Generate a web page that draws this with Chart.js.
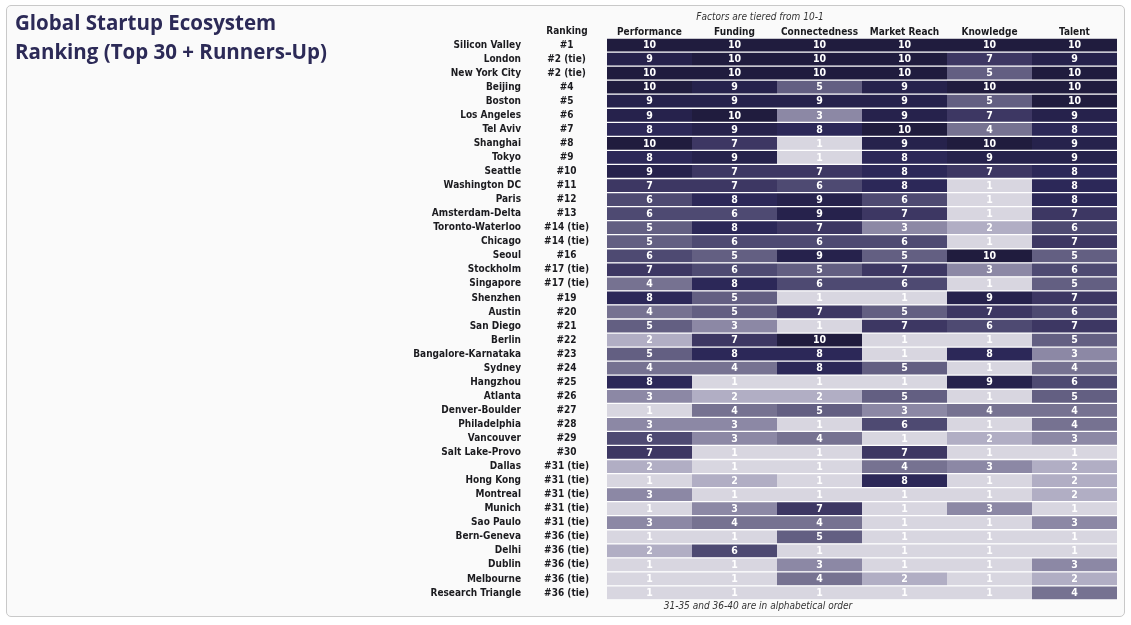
<!DOCTYPE html>
<html>
<head>
<meta charset="utf-8">
<script src="https://cdn.jsdelivr.net/npm/chart.js@4.4.0/dist/chart.umd.min.js"></script>
<style>
  html, body { margin: 0; padding: 0; background: #fff; }
  #card { position: absolute; left: 6px; top: 5px; width: 1117px; height: 610px;
          border: 1px solid #c9c9c9; border-radius: 5px; background: #fafafa; overflow: hidden; }
  #card canvas { display: block; }
</style>
</head>
<body>
<div id="card"><canvas id="rank"></canvas></div>
<script>
// data
const cities = ['Silicon Valley', 'London', 'New York City', 'Beijing', 'Boston', 'Los Angeles', 'Tel Aviv',
  'Shanghai', 'Tokyo', 'Seattle', 'Washington DC', 'Paris', 'Amsterdam-Delta', 'Toronto-Waterloo', 'Chicago',
  'Seoul', 'Stockholm', 'Singapore', 'Shenzhen', 'Austin', 'San Diego', 'Berlin', 'Bangalore-Karnataka',
  'Sydney', 'Hangzhou', 'Atlanta', 'Denver-Boulder', 'Philadelphia', 'Vancouver', 'Salt Lake-Provo',
  'Dallas', 'Hong Kong', 'Montreal', 'Munich', 'Sao Paulo', 'Bern-Geneva', 'Delhi', 'Dublin', 'Melbourne',
  'Research Triangle'];
const ranks = ['#1', '#2 (tie)', '#2 (tie)', '#4', '#5', '#6', '#7', '#8', '#9', '#10', '#11', '#12', '#13',
  '#14 (tie)', '#14 (tie)', '#16', '#17 (tie)', '#17 (tie)', '#19', '#20', '#21', '#22', '#23', '#24', '#25',
  '#26', '#27', '#28', '#29', '#30', '#31 (tie)', '#31 (tie)', '#31 (tie)', '#31 (tie)', '#31 (tie)',
  '#36 (tie)', '#36 (tie)', '#36 (tie)', '#36 (tie)', '#36 (tie)'];
const factors = ['Performance', 'Funding', 'Connectedness', 'Market Reach', 'Knowledge', 'Talent'];

const performance   = [10, 9, 10, 10, 9, 9, 8, 10, 8, 9, 7, 6, 6, 5, 5, 6, 7, 4, 8, 4, 5, 2, 5, 4, 8, 3, 1, 3, 6, 7, 2, 1, 3, 1, 3, 1, 2, 1, 1, 1];
const funding       = [10, 10, 10, 9, 9, 10, 9, 7, 9, 7, 7, 8, 6, 8, 6, 5, 6, 8, 5, 5, 3, 7, 8, 4, 1, 2, 4, 3, 3, 1, 1, 2, 1, 3, 4, 1, 6, 1, 1, 1];
const connectedness = [10, 10, 10, 5, 9, 3, 8, 1, 1, 7, 6, 9, 9, 7, 6, 9, 5, 6, 1, 7, 1, 10, 8, 8, 1, 2, 5, 1, 4, 1, 1, 1, 1, 7, 4, 5, 1, 3, 4, 1];
const marketReach   = [10, 10, 10, 9, 9, 9, 10, 9, 8, 8, 8, 6, 7, 3, 6, 5, 7, 6, 1, 5, 7, 1, 1, 5, 1, 5, 3, 6, 1, 7, 4, 8, 1, 1, 1, 1, 1, 1, 2, 1];
const knowledge     = [10, 7, 5, 10, 5, 7, 4, 10, 9, 7, 1, 1, 1, 2, 1, 10, 3, 1, 9, 7, 6, 1, 8, 1, 9, 1, 4, 1, 2, 1, 3, 1, 1, 3, 1, 1, 1, 1, 1, 1];
const talent        = [10, 9, 10, 10, 10, 9, 8, 9, 9, 8, 8, 8, 7, 6, 7, 5, 6, 5, 7, 6, 7, 5, 3, 4, 6, 5, 4, 4, 3, 1, 2, 2, 2, 1, 3, 1, 1, 3, 2, 4];
const scores = [performance, funding, connectedness, marketReach, knowledge, talent];

// colour for each tier 1..10
const tierColor = [null,
  '#d8d6e0', '#b1aec4', '#8c88a5', '#767291', '#635f82',
  '#4e4a72', '#3d3763', '#2c2858', '#26224c', '#201c3e'];

const NARROW = '"Liberation Sans Narrow", "DejaVu Sans Condensed", "Open Sans", sans-serif';
const INK = '#1b1b1f';
const labelFont = { family: NARROW, size: 10, weight: 'bold' };

// numbers inside the cells
const cellText = {
  id: 'cellText',
  afterDatasetsDraw(chart) {
    const { ctx } = chart;
    ctx.save();
    ctx.font = 'bold 10.5px ' + NARROW;
    ctx.fillStyle = '#fff';
    ctx.textAlign = 'center';
    ctx.textBaseline = 'middle';
    chart.data.datasets.forEach((ds, j) => {
      chart.getDatasetMeta(j).data.forEach((bar, i) => {
        const c = bar.getCenterPoint();
        ctx.fillText(scores[j][i], c.x, c.y + 0.5);
      });
    });
    ctx.restore();
  }
};

// title block, column heading for ranks, notes above and below
const notes = {
  id: 'notes',
  afterDraw(chart) {
    const { ctx } = chart;
    ctx.save();
    ctx.fillStyle = '#2c2a57';
    ctx.font = 'bold 20.5px "Open Sans", sans-serif';
    ctx.textAlign = 'left';
    ctx.textBaseline = 'alphabetic';
    ctx.fillText('Global Startup Ecosystem', 8, 24);
    ctx.fillText('Ranking (Top 30 + Runners-Up)', 8, 53);

    ctx.fillStyle = INK;
    ctx.font = 'bold 10px ' + NARROW;
    ctx.textAlign = 'center';
    ctx.textBaseline = 'middle';
    ctx.fillText('Ranking', 560, 25);

    ctx.fillStyle = '#333';
    ctx.font = 'italic 10px ' + NARROW;
    ctx.fillText('Factors are tiered from 10-1', 753, 11);
    ctx.fillText('31-35 and 36-40 are in alphabetical order', 751, 600);
    ctx.restore();
  }
};

const datasets = factors.map((name, j) => ({
  label: name,
  data: cities.map(() => [j, j + 1]),
  backgroundColor: scores[j].map(v => tierColor[v]),
  borderColor: '#ffffff',
  borderWidth: { top: 1, bottom: 1, left: 0, right: 0 },
  borderSkipped: false,
  grouped: false,
  barPercentage: 1,
  categoryPercentage: 1
}));

function noLabelPadding(scale) {
  scale.paddingTop = 0;
  scale.paddingBottom = 0;
}

const config = {
  type: 'bar',
  data: { labels: cities, datasets },
  options: {
    indexAxis: 'y',
    responsive: true,
    maintainAspectRatio: false,
    animation: false,
    layout: { padding: { left: 0, top: 0, right: 7, bottom: 16 } },
    plugins: {
      legend: { display: false },
      tooltip: { enabled: false }
    },
    scales: {
      x: { type: 'linear', min: 0, max: factors.length, display: false },
      x2: {
        type: 'category', labels: factors, position: 'top', offset: true,
        grid: { display: false, drawTicks: false }, border: { display: false },
        ticks: { color: INK, padding: 0, maxRotation: 0, autoSkip: false, font: labelFont },
        afterFit(scale) { scale.height = 32; }
      },
      y: {
        type: 'category', weight: 1,
        grid: { display: false, drawTicks: false }, border: { display: false },
        ticks: { color: INK, padding: 6, autoSkip: false, font: labelFont },
        afterFit(scale) { scale.width = 520; noLabelPadding(scale); }
      },
      y2: {
        type: 'category', labels: ranks, position: 'left', offset: true, weight: 0,
        grid: { display: false, drawTicks: false }, border: { display: false },
        ticks: { color: INK, padding: 18, autoSkip: false, crossAlign: 'center', font: labelFont },
        afterFit(scale) { scale.width = 80; noLabelPadding(scale); }
      }
    }
  },
  plugins: [cellText, notes]
};

const rankChart = new Chart(document.getElementById('rank'), config);
</script>
</body>
</html>
